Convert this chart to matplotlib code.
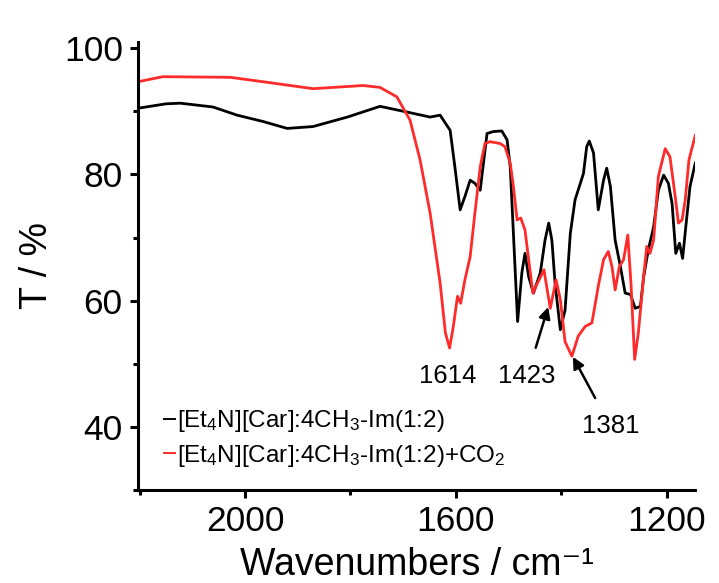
import matplotlib
matplotlib.use("Agg")
import matplotlib.pyplot as plt
from matplotlib.ticker import MultipleLocator

plt.rcParams['font.family'] = ['Liberation Sans', 'DejaVu Sans']
plt.rcParams['mathtext.fontset'] = 'custom'
plt.rcParams['mathtext.rm'] = 'Liberation Sans'
plt.rcParams['mathtext.it'] = 'Liberation Sans:italic'
plt.rcParams['mathtext.bf'] = 'Liberation Sans:bold'

# Wavenumbers (cm^-1) and transmittance (%)
wn_black = [2203, 2150, 2123, 2061, 2015, 1966, 1920, 1871, 1806, 1744, 1693, 1649, 1630,
            1611, 1602, 1592, 1583, 1573, 1564, 1554, 1541, 1529, 1513, 1503, 1497,
            1491, 1483, 1475, 1469, 1462, 1453, 1440, 1431, 1424, 1418, 1412, 1402,
            1393, 1383, 1374, 1364, 1358, 1352, 1347, 1339, 1330, 1320, 1314, 1307,
            1298, 1288, 1279, 1269, 1260, 1250, 1244, 1235, 1225, 1216, 1206, 1197,
            1190, 1183, 1176, 1170, 1164, 1156, 1146]
t_black = [90.5, 91.2, 91.3, 90.7, 89.4, 88.4, 87.3, 87.6, 89.1, 90.8, 89.9, 89.1, 89.4,
           87.0, 81.2, 74.4, 76.5, 79.1, 78.6, 77.5, 86.5, 86.8, 86.9, 85.5, 81.2,
           70.7, 56.7, 64.4, 67.5, 63.8, 61.2, 64.4, 69.6, 72.3, 69.6, 62.8, 55.4,
           58.5, 70.7, 76.0, 78.6, 80.2, 84.4, 85.3, 83.4, 74.4, 79.1, 81.0, 78.1,
           69.6, 65.4, 61.2, 61.0, 58.8, 59.1, 63.8, 68.1, 71.7, 77.5, 79.9, 78.6,
           75.4, 67.5, 69.1, 66.7, 71.7, 78.1, 81.8]

wn_red = [2203, 2156, 2028, 1966, 1871, 1776, 1744, 1712, 1687, 1668, 1649, 1630,
          1620, 1612, 1605, 1597, 1591, 1583, 1573, 1564, 1554, 1545, 1535, 1516,
          1507, 1497, 1491, 1484, 1477, 1469, 1462, 1454, 1447, 1433, 1428, 1421,
          1410, 1402, 1393, 1380, 1368, 1355, 1342, 1330, 1320, 1311, 1304, 1298,
          1290, 1282, 1274, 1268, 1261, 1254, 1244, 1238, 1232, 1225, 1216, 1203,
          1194, 1184, 1178, 1171, 1165, 1158, 1146]
t_red = [94.7, 95.5, 95.4, 94.7, 93.6, 94.1, 93.8, 92.3, 88.6, 82.3, 73.9, 62.8,
         54.9, 52.5, 55.9, 60.7, 59.6, 63.3, 67.0, 73.9, 81.2, 84.9, 85.2, 84.9,
         84.4, 81.8, 78.1, 72.8, 73.1, 71.2, 66.5, 61.2, 62.5, 64.9, 62.3, 58.8,
         63.3, 60.2, 53.5, 51.2, 54.4, 55.9, 56.5, 62.3, 66.5, 67.8, 65.4, 61.7,
         65.4, 66.5, 70.4, 62.8, 50.7, 54.9, 63.8, 68.6, 67.5, 69.6, 79.7, 84.1,
         82.8, 76.5, 72.3, 72.8, 76.0, 82.3, 86.2]

label_black = r'[Et$_4$N][Car]:4CH$_3$-Im(1:2)'
label_red = r'[Et$_4$N][Car]:4CH$_3$-Im(1:2)+CO$_2$'

fig = plt.figure(figsize=(7.19, 5.83), dpi=100)
ax = fig.add_axes([0.192, 0.1595, 0.775, 0.7685])

ax.plot(wn_black, t_black, color='black', lw=2.0, solid_joinstyle='round', label=label_black)
ax.plot(wn_red, t_red, color='#ff2a2a', lw=2.0, solid_joinstyle='round', label=label_red)

ax.set_xlim(2203, 1146)
ax.set_ylim(30, 101)
ax.xaxis.set_major_locator(MultipleLocator(400))
ax.xaxis.set_minor_locator(MultipleLocator(200))
ax.yaxis.set_major_locator(MultipleLocator(20))
ax.yaxis.set_minor_locator(MultipleLocator(10))

for s in ['top', 'right']:
    ax.spines[s].set_visible(False)
for s in ['left', 'bottom']:
    ax.spines[s].set_linewidth(2.2)
ax.tick_params(which='major', direction='out', length=6, width=2.2, labelsize=25.5, pad=5)
ax.tick_params(which='minor', direction='out', length=3.5, width=2.2)

ax.set_xlabel('Wavenumbers / cm\u207b\u00b9', fontsize=27, labelpad=6)
ax.set_ylabel('T / %', fontsize=27, labelpad=6)

ann_fs = 18.5
ax.annotate('1614', xy=(1615, 48.1), ha='center', va='center', fontsize=ann_fs)
ax.annotate('1423', xy=(1425, 59.0), xytext=(1465, 48.1), ha='center', va='center',
            fontsize=ann_fs, arrowprops=dict(arrowstyle='-|>', color='black', lw=1.8,
                                             shrinkA=10, shrinkB=0, mutation_scale=17))
ax.annotate('1381', xy=(1378, 51.1), xytext=(1307, 40.1), ha='center', va='center',
            fontsize=ann_fs, arrowprops=dict(arrowstyle='-|>', color='black', lw=1.8,
                                             shrinkA=11, shrinkB=0, mutation_scale=17))

leg = ax.legend(loc='lower left', bbox_to_anchor=(0.02, 0.015), frameon=False,
                fontsize=17.5, handlelength=0.45, handletextpad=0.1, labelspacing=0.35,
                borderaxespad=0.2)
for h in leg.get_lines():
    h.set_linewidth(1.4)

fig.savefig('out.png', dpi=100, facecolor='white')
